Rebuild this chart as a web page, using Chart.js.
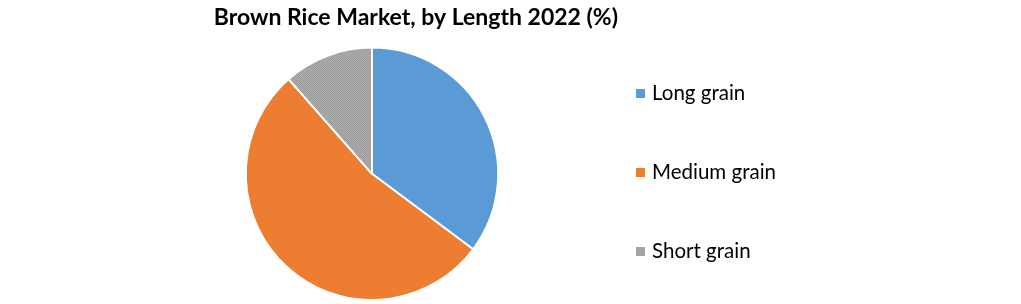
<!DOCTYPE html>
<html>
<head>
<meta charset="utf-8">
<script src="https://cdn.jsdelivr.net/npm/chart.js@4.4.1/dist/chart.umd.min.js"></script>
<style>
  html, body { margin: 0; padding: 0; background: #ffffff; }
  #wrap { position: relative; width: 1021px; height: 304px; }
</style>
</head>
<body>
<div id="wrap"><canvas id="c" width="1021" height="304"></canvas></div>
<script>
// ---- data ----
const titleText = 'Brown Rice Market, by Length 2022 (%)';
const categories = ['Long grain', 'Medium grain', 'Short grain'];
const shares = [35.2, 53.3, 11.5];
const sliceColors = ['#5B9BD5', '#ED7D31', '#A5A5A5'];

// dithered grey like the reference
function greyPattern() {
  const p = document.createElement('canvas');
  p.width = 2; p.height = 2;
  const g = p.getContext('2d');
  g.fillStyle = '#adadad'; g.fillRect(0, 0, 2, 2);
  g.fillStyle = '#9c9c9c'; g.fillRect(0, 0, 1, 1); g.fillRect(1, 1, 1, 1);
  return g.createPattern(p, 'repeat');
}
const fills = sliceColors.slice();
fills[2] = greyPattern();

const sideLegend = {
  id: 'sideLegend',
  afterDraw(chart, args, o) {
    const ctx = chart.ctx;
    const ds = chart.data.datasets[0];
    ctx.save();
    ctx.font = o.font;
    ctx.textBaseline = 'middle';
    ctx.textAlign = 'left';
    chart.data.labels.forEach((label, i) => {
      const y = o.top + i * o.gap;
      ctx.fillStyle = ds.backgroundColor[i];
      ctx.fillRect(o.x, Math.round(y - o.box / 2), o.box, o.box);
      ctx.fillStyle = o.color;
      ctx.fillText(label, o.x + o.box + o.textGap, y);
    });
    ctx.restore();
  }
};

new Chart(document.getElementById('c'), {
  type: 'pie',
  data: {
    labels: categories,
    datasets: [{
      data: shares,
      backgroundColor: fills,
      borderColor: '#ffffff',
      borderWidth: 2
    }]
  },
  options: {
    responsive: false,
    animation: false,
    events: [],
    layout: { padding: { left: 126, right: 403, top: 0, bottom: 3 } },
    plugins: {
      legend: { display: false },
      tooltip: { enabled: false },
      title: {
        display: true,
        text: titleText,
        fullSize: false,
        align: 'end',
        color: '#000000',
        font: { family: 'Lato', size: 23, weight: 'bold', lineHeight: 1.2 },
        padding: { top: 4, bottom: 15 }
      },
      sideLegend: {
        x: 636, top: 93, gap: 79, box: 9, textGap: 7,
        font: '20.5px Lato', color: '#000000'
      }
    }
  },
  plugins: [sideLegend]
});
</script>
</body>
</html>
